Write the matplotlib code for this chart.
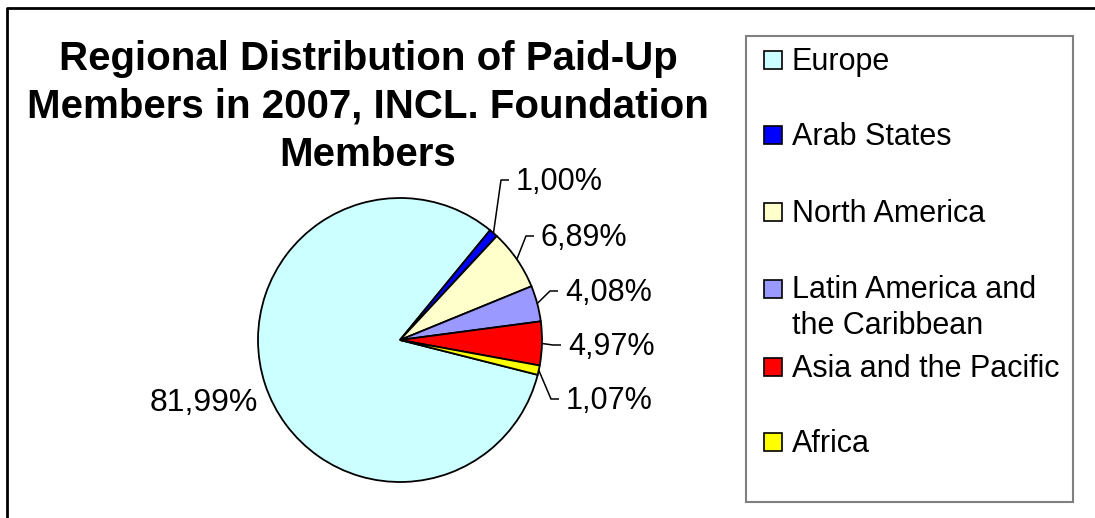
import numpy as np
import matplotlib.pyplot as plt
from matplotlib.patches import Rectangle

plt.rcParams['font.family'] = ['Liberation Sans', 'DejaVu Sans']

# data
regions = ["Europe", "Arab States", "North America",
           "Latin America and\nthe Caribbean", "Asia and the Pacific", "Africa"]
shares = [81.99, 1.00, 6.89, 4.08, 4.97, 1.07]
pct_labels = ["81,99%", "1,00%", "6,89%", "4,08%", "4,97%", "1,07%"]
colors = ["#CCFFFF", "#0000FF", "#FFFFCC", "#9999FF", "#FF0000", "#FFFF00"]

title_lines = ["Regional Distribution of Paid-Up",
               "Members in 2007, INCL. Foundation",
               "Members"]

W, H = 1095, 518
fig = plt.figure(figsize=(W / 100, H / 100), dpi=100)
ax = fig.add_axes([0, 0, 1, 1])

def fy(y):
    # image y (from top) -> axes y (from bottom)
    return H - y

cx, cy, r = 400, 340, 142
wedges, _ = ax.pie(shares, colors=colors, startangle=-14.2, counterclock=False,
                   center=(cx, fy(cy)), radius=r,
                   wedgeprops=dict(edgecolor="black", linewidth=1.3))

# label text anchors (left x, centre y) in image pixels
label_pos = [(258, 403), (516, 182), (541, 238), (565, 293), (568, 347), (566, 401)]
for i, (w, lab) in enumerate(zip(wedges, pct_labels)):
    tx, ty = label_pos[i]
    if i == 0:
        ax.text(tx, fy(ty), lab, ha="right", va="center", fontsize=23)
        continue
    mid = np.deg2rad((w.theta1 + w.theta2) / 2)
    ex, ey = cx + r * np.cos(mid), fy(cy) + r * np.sin(mid)
    ax.plot([ex, tx - 15, tx - 7], [ey, fy(ty - 2), fy(ty - 2)],
            color="black", lw=1.1, solid_capstyle="butt")
    ax.text(tx, fy(ty), lab, ha="left", va="center", fontsize=22)

# title, one text per line
for line, ly in zip(title_lines, [59, 107, 155]):
    ax.text(368, fy(ly), line, ha="center", va="center", fontsize=29,
            fontweight="bold")

# legend box
ax.add_patch(Rectangle((746, fy(502)), 327, 466, fill=False,
                       edgecolor="#808080", lw=1.5))
handle_y = [60, 135, 212, 289, 367, 442]
for lab, col, hy in zip(regions, colors, handle_y):
    ax.add_patch(Rectangle((764, fy(hy) - 9), 18, 18, facecolor=col,
                           edgecolor="black", lw=1.2))
    if "\n" in lab:
        ax.text(792, fy(hy + 19), lab, ha="left", va="center",
                fontsize=22, linespacing=1.25)
    else:
        ax.text(792, fy(hy + 2), lab, ha="left", va="center", fontsize=22)

# outer frame
ax.plot([7, 7, W + 5], [-5, fy(8), fy(8)], color="black", lw=2)

ax.set_xlim(0, W)
ax.set_ylim(0, H)
ax.axis("off")

fig.savefig("out.png", dpi=100)
